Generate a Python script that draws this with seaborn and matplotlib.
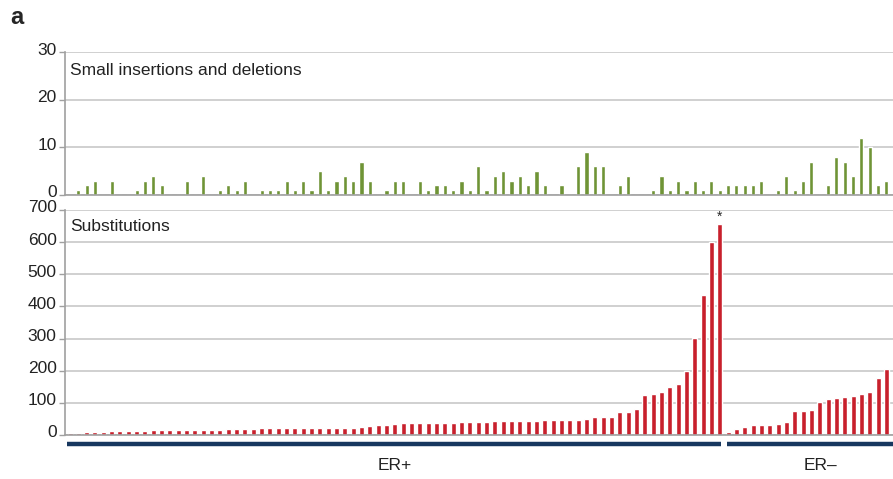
import numpy as np
import pandas as pd
import matplotlib
matplotlib.use("Agg")
import matplotlib.pyplot as plt
import matplotlib.transforms as mtransforms
import seaborn as sns

# samples in the order of the figure: 79 ER+ tumours, then ER- tumours
er_pos_subs = [6, 7, 8, 9, 10, 11, 12, 12, 13, 13, 14, 14, 15, 15, 16, 16, 16, 17, 17, 18,
               18, 20, 20, 21, 21, 21, 22, 22, 22, 22, 23, 23, 21, 23, 23, 26, 28, 32, 32, 34,
               36, 36, 37, 37, 37, 38, 38, 39, 39, 39, 40, 42, 43, 44, 44, 44, 45, 46, 46, 46,
               47, 47, 49, 56, 56, 56, 71, 71, 81, 124, 126, 134, 149, 160, 200, 303, 437, 599, 655]
er_neg_subs = [8, 20, 24, 30, 31, 31, 33, 40, 75, 76, 79, 102, 112, 114, 118, 121, 126, 134, 178, 206]

er_pos_indels = [0, 1, 2, 3, 0, 3, 0, 0, 1, 3, 4, 2, 0, 0, 3, 0, 4, 0, 1, 2,
                 1, 3, 0, 1, 1, 1, 3, 1, 3, 1, 5, 1, 3, 4, 3, 7, 3, 0, 1, 3,
                 3, 0, 3, 1, 2, 2, 1, 3, 1, 6, 1, 4, 5, 3, 4, 2, 5, 2, 0, 2,
                 0, 6, 9, 6, 6, 0, 2, 4, 0, 0, 1, 4, 1, 3, 1, 3, 1, 3, 1]
er_neg_indels = [2, 2, 2, 2, 3, 0, 1, 4, 1, 3, 7, 0, 2, 8, 7, 4, 12, 10, 2, 3]

group_labels = ["ER+", "ER\u2013"]

subs = er_pos_subs + er_neg_subs
indels = er_pos_indels + er_neg_indels
df = pd.DataFrame({"sample": np.arange(len(subs)), "subs": subs, "indels": indels})
n_pos = len(er_pos_subs)

green = "#6f9436"
red = "#c8202c"
navy = "#17375f"
grid = "#c8c8c8"

sns.set_style("white")
plt.rcParams["font.family"] = ["Liberation Sans", "DejaVu Sans"]

fig = plt.figure(figsize=(8.93, 4.79), dpi=100)
ax_top = fig.add_axes([0.0728, 0.593, 0.9272, 0.298])
ax_bot = fig.add_axes([0.0728, 0.0919, 0.9272, 0.4697])

sns.barplot(data=df, x="sample", y="indels", color=green, width=0.5, saturation=1, ax=ax_top)
sns.barplot(data=df, x="sample", y="subs", color=red, width=0.6, saturation=1, ax=ax_bot)

# tick labels sit a few pixels above their ticks in the original
lift = mtransforms.ScaledTranslation(0, 3.5 / 100, fig.dpi_scale_trans)

for ax, top, step in [(ax_top, 30, 10), (ax_bot, 700, 100)]:
    ax.set_xlim(-0.6, len(subs) - 0.2)
    ax.set_ylim(0, top)
    ax.set_yticks(np.arange(0, top + 1, step))
    ax.yaxis.grid(True, color=grid, lw=1.2)
    ax.set_axisbelow(True)
    ax.set_xticks([])
    ax.set_xlabel("")
    ax.set_ylabel("")
    for s in ["top", "right"]:
        ax.spines[s].set_visible(False)
    for s in ["left", "bottom"]:
        ax.spines[s].set_color("#a0a0a0")
        ax.spines[s].set_linewidth(1.2)
    ax.tick_params(axis="y", left=True, length=4, width=1, color="#a0a0a0",
                   labelsize=12.5, pad=2, labelcolor="#222222")
    for lab in ax.get_yticklabels():
        lab.set_transform(lab.get_transform() + lift)

ax_top.text(0.006, 0.87, "Small insertions and deletions", transform=ax_top.transAxes,
            fontsize=12.5, color="#222222", va="center")
ax_bot.text(0.006, 0.925, "Substitutions", transform=ax_bot.transAxes,
            fontsize=12.5, color="#222222", va="center")

# asterisk over the top sample
top_i = int(np.argmax(subs))
ax_bot.text(top_i, subs[top_i] + 2, "*", ha="center", va="bottom", fontsize=10)

# group bars under the axis
trans = mtransforms.blended_transform_factory(ax_bot.transData, ax_bot.transAxes)
ax_bot.plot([-0.4, n_pos - 0.85], [-0.04, -0.04], color=navy, lw=3.2,
            transform=trans, clip_on=False, solid_capstyle="butt")
ax_bot.plot([n_pos - 0.15, len(subs) + 2], [-0.04, -0.04], color=navy, lw=3.2,
            transform=trans, clip_on=False, solid_capstyle="butt")
ax_bot.text((n_pos - 1) / 2, -0.135, group_labels[0], transform=trans,
            ha="center", va="center", fontsize=12.5, color="#222222")
ax_bot.text(90.1, -0.135, group_labels[1], transform=trans,
            ha="center", va="center", fontsize=12.5, color="#222222")

fig.text(0.011, 0.963, "a", fontsize=17, fontweight="bold", va="center")

fig.savefig("out.png", dpi=100)
